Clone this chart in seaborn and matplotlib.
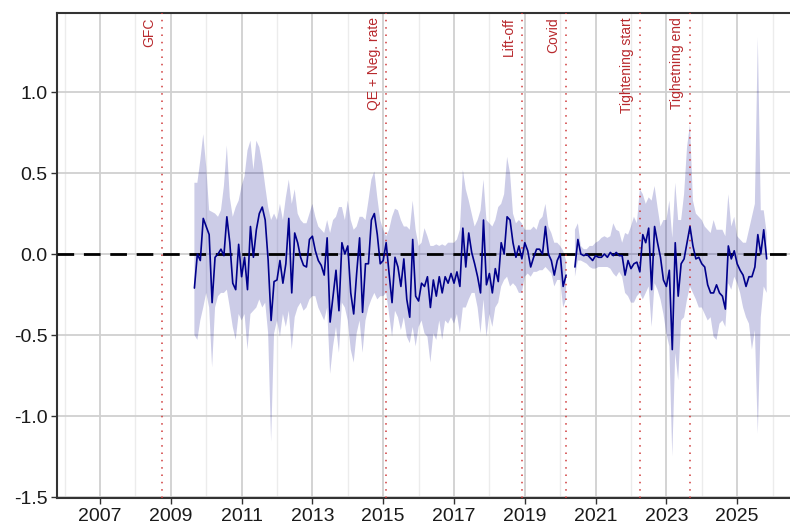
import numpy as np
import pandas as pd
import matplotlib
matplotlib.use("Agg")
import matplotlib.pyplot as plt
import seaborn as sns

nan = np.nan

# ---------------- data ----------------
start_month = "2009-09-01"   # first monthly observation

estimate = [
    -0.21, 0.00, -0.04, 0.22, 0.17, 0.12, -0.30, -0.02, 0.00, 0.03, -0.01, 0.23,
    0.07, -0.18, -0.22, 0.06, -0.14, -0.02, -0.22, 0.17, -0.02, 0.15, 0.25, 0.29,
    0.21, -0.04, -0.41, -0.17, -0.16, -0.04, -0.18, -0.06, 0.22, -0.24, 0.13, 0.07,
    -0.02, -0.07, -0.08, 0.09, 0.11, 0.02, -0.04, -0.07, -0.13, 0.10, -0.42, -0.26,
    -0.10,
    -0.35, 0.07, 0.00, 0.05, -0.24, -0.37, -0.12, 0.10, -0.36, -0.06, -0.06, 0.21,
    0.25, 0.12, -0.06, -0.04, 0.07, -0.12, -0.30, -0.02, -0.08, -0.20, -0.03, -0.28,
    -0.39,
    0.09, -0.26, -0.29, -0.18, -0.20, -0.14, -0.33, -0.16, -0.26, -0.14, -0.24, -0.14,
    -0.18, -0.12, -0.18, -0.11, -0.20, 0.16, -0.08, 0.13, 0.01, -0.06, -0.14, -0.24,
    0.21, -0.19,
    -0.12, -0.24, -0.09, -0.17, 0.07, 0.00, 0.23, 0.21, 0.07, -0.02, 0.05, -0.03,
    0.07, 0.02, -0.08, -0.02, 0.03, 0.03, 0.00, 0.17, 0.00, -0.04, -0.13, -0.04,
    0.00,
    -0.20, -0.13, nan, nan, -0.08, 0.09, 0.00, -0.01, 0.00, -0.02, -0.04, -0.01,
    -0.02, -0.02, 0.00, -0.02, 0.01, -0.01, 0.01, -0.01, -0.01, -0.13, -0.04, -0.09,
    -0.06, -0.05,
    -0.11, 0.12, 0.07, 0.16, -0.22, 0.17, 0.07, -0.02, -0.16, -0.20, -0.10, -0.59,
    0.07, -0.26, -0.06, -0.03, 0.07, 0.17, 0.05, -0.03, -0.02, -0.06, -0.08, -0.19,
    -0.24,
    -0.24, -0.19, -0.24, -0.26, -0.34, 0.05, -0.03, 0.02, -0.06, -0.10, -0.13, -0.20,
    -0.14, -0.14, -0.08, 0.12, 0.00, 0.15, -0.03,
]

upper = [
    0.44, 0.44, 0.58, 0.74, 0.54, 0.27, 0.26, 0.25, 0.23, 0.27, 0.42, 0.67,
    0.35, 0.23, 0.29, 0.33, 0.42, 0.48, 0.64, 0.70, 0.52, 0.70, 0.66, 0.56,
    0.42, 0.29, 0.21, 0.25, 0.21, 0.31, 0.21, 0.35, 0.46, 0.31, 0.40, 0.25,
    0.21, 0.19, 0.19, 0.25, 0.31, 0.23, 0.17, 0.15, 0.13, 0.21, 0.13, 0.21,
    0.23,
    0.29, 0.29, 0.21, 0.33, 0.21, 0.15, 0.17, 0.23, 0.23, 0.21, 0.33, 0.46,
    0.51, 0.35, 0.21, 0.15, 0.11, 0.15, 0.23, 0.28, 0.27, 0.21, 0.17, 0.17,
    0.15,
    0.33, 0.15, 0.05, 0.07, 0.16, 0.11, 0.05, 0.05, 0.06, 0.05, 0.06, 0.05,
    0.07, 0.07, 0.07, 0.09, 0.15, 0.52, 0.40, 0.33, 0.25, 0.17, 0.21, 0.27,
    0.46, 0.21,
    0.19, 0.17, 0.21, 0.29, 0.31, 0.37, 0.60, 0.50, 0.25, 0.19, 0.21, 0.19,
    0.15, 0.15, 0.15, 0.17, 0.15, 0.21, 0.23, 0.31, 0.17, 0.13, 0.07, 0.07,
    0.05,
    0.02, -0.04, nan, nan, 0.15, 0.19, 0.05, 0.03, 0.03, 0.05, 0.05, 0.07,
    0.08, 0.10, 0.11, 0.10, 0.11, 0.19, 0.15, 0.14, 0.07, 0.13, 0.12, 0.17,
    0.23, 0.19,
    0.40, 0.37, 0.31, 0.35, 0.33, 0.42, 0.29, 0.17, 0.21, 0.21, 0.33, 0.10,
    0.44, 0.21, 0.21, 0.37, 0.66, 0.80, 0.33, 0.25, 0.23, 0.21, 0.17, 0.15,
    0.13,
    0.21, 0.15, 0.15, 0.15, 0.11, 0.37, 0.17, 0.23, 0.11, 0.09, 0.07, 0.07,
    0.15, 0.23, 0.31, 1.34, 0.27, 0.27, 0.13,
]

lower = [
    -0.50, -0.53, -0.41, -0.33, -0.24, -0.33, -0.70, -0.33, -0.26, -0.24, -0.24, -0.22,
    -0.33, -0.45, -0.53, -0.37, -0.41, -0.37, -0.59, -0.37, -0.35, -0.33, -0.28, -0.33,
    -0.30, -0.49, -1.16, -0.49, -0.41, -0.51, -0.37, -0.45, -0.35, -0.59, -0.39, -0.33,
    -0.30, -0.35, -0.33, -0.28, -0.26, -0.26, -0.33, -0.37, -0.41, -0.33, -0.74, -0.57,
    -0.45,
    -0.61, -0.30, -0.33, -0.41, -0.59, -0.67, -0.49, -0.41, -0.61, -0.41, -0.33, -0.28,
    -0.24, -0.28, -0.26, -0.26, -0.24, -0.37, -0.51, -0.35, -0.39, -0.47, -0.39, -0.51,
    -0.55,
    -0.45, -0.57, -0.45, -0.41, -0.49, -0.51, -0.67, -0.49, -0.53, -0.41, -0.53, -0.41,
    -0.43, -0.39, -0.43, -0.37, -0.49, -0.33, -0.33, -0.28, -0.24, -0.24, -0.33, -0.49,
    -0.28, -0.51,
    -0.37, -0.45, -0.33, -0.30, -0.20, -0.16, -0.14, -0.20, -0.18, -0.20, -0.24, -0.24,
    -0.14, -0.12, -0.14, -0.11, -0.11, -0.10, -0.10, -0.08, -0.10, -0.12, -0.20, -0.16,
    -0.16,
    -0.33, -0.28, nan, nan, -0.14, -0.04, -0.04, -0.05, -0.06, -0.08, -0.09, -0.09,
    -0.08, -0.08, -0.08, -0.08, -0.09, -0.12, -0.14, -0.11, -0.14, -0.24, -0.26, -0.30,
    -0.30, -0.26,
    -0.24, -0.28, -0.24, -0.20, -0.45, -0.18, -0.22, -0.28, -0.37, -0.49, -0.57, -1.25,
    -0.61, -0.78, -0.41, -0.39, -0.28, -0.20, -0.24, -0.28, -0.33, -0.33, -0.37, -0.41,
    -0.39,
    -0.51, -0.53, -0.43, -0.41, -0.45, -0.18, -0.22, -0.14, -0.18, -0.24, -0.33, -0.39,
    -0.43, -0.59, -0.47, -1.11, -0.39, -0.20, -0.24,
]

event_labels = ["GFC", "QE + Neg. rate", "Lift-off", "Covid",
                "Tightening start", "Tighetning end"]
event_dates = ["2008-10-01", "2015-02-01", "2018-12-01", "2020-03-01",
               "2022-04-01", "2023-09-01"]

x_tick_years = list(range(2007, 2026, 2))
x_minor_years = list(range(2006, 2027, 2))
y_ticks = [-1.5, -1.0, -0.5, 0.0, 0.5, 1.0]

assert len(estimate) == len(upper) == len(lower)

# ---------------- build table ----------------
dates = pd.date_range(start_month, periods=len(estimate), freq="MS")
t = dates.year + (dates.month - 1) / 12.0
df = pd.DataFrame({"t": t, "estimate": estimate, "upper": upper, "lower": lower})
df["segment"] = df["estimate"].isna().cumsum()
ev = pd.to_datetime(event_dates)
ev_t = ev.year + (ev.month - 1) / 12.0

# ---------------- plot ----------------
sns.set_theme(style="whitegrid")
plt.rcParams["font.family"] = ["Liberation Sans", "DejaVu Sans"]
plt.rcParams["axes.unicode_minus"] = False

fig = plt.figure(figsize=(7.9, 5.29), dpi=100)
ax = fig.add_axes([57 / 790, 31 / 529, 740 / 790, 485 / 529])
ax.set_facecolor("white")

ax.fill_between(df["t"], df["lower"], df["upper"], color="#00008b",
                alpha=0.2, linewidth=0, zorder=2)
ax.axhline(0, color="black", lw=2.0, ls=(0, (6, 3.5)), zorder=3)
sns.lineplot(data=df.dropna(), x="t", y="estimate", units="segment",
             estimator=None, color="#00008b", lw=1.2, ax=ax, zorder=4)

for x, lab in zip(ev_t, event_labels):
    ax.axvline(x, color="#d03a3a", lw=1.1, ls=(0, (1, 3.8)), zorder=3)
    ax.annotate(lab, xy=(x, 1.0), xycoords=("data", "axes fraction"),
                xytext=(-4, -3), textcoords="offset points",
                rotation=90, ha="right", va="top", fontsize=10,
                color="#b8292d")

ax.set_xlim(2005.785, 2026.69)
ax.set_ylim(-1.506, 1.488)
ax.set_xticks(x_tick_years)
ax.set_xticklabels([str(y) for y in x_tick_years])
ax.set_xticks(x_minor_years, minor=True)
ax.set_yticks(y_ticks)
ax.set_yticklabels([f"{v:.1f}" for v in y_ticks])

ax.grid(which="major", color="#d0d0d0", lw=1.3)
ax.grid(which="minor", axis="x", color="#ececec", lw=1.0)
ax.grid(which="minor", axis="y", visible=False)
ax.set_axisbelow(True)

ax.tick_params(which="major", length=4, width=1, color="#333333",
               direction="out", labelsize=14, labelcolor="#1a1a1a", pad=3)
ax.tick_params(which="minor", length=0)
ax.tick_params(axis="x", bottom=True)
ax.tick_params(axis="y", left=True)

for side in ["left", "top", "bottom"]:
    ax.spines[side].set_visible(True)
    ax.spines[side].set_color("#333333")
    ax.spines[side].set_linewidth(1.5)
ax.spines["right"].set_visible(False)

ax.set_xlabel("")
ax.set_ylabel("")
if ax.get_legend() is not None:
    ax.get_legend().remove()

fig.savefig("out.png", dpi=100)
